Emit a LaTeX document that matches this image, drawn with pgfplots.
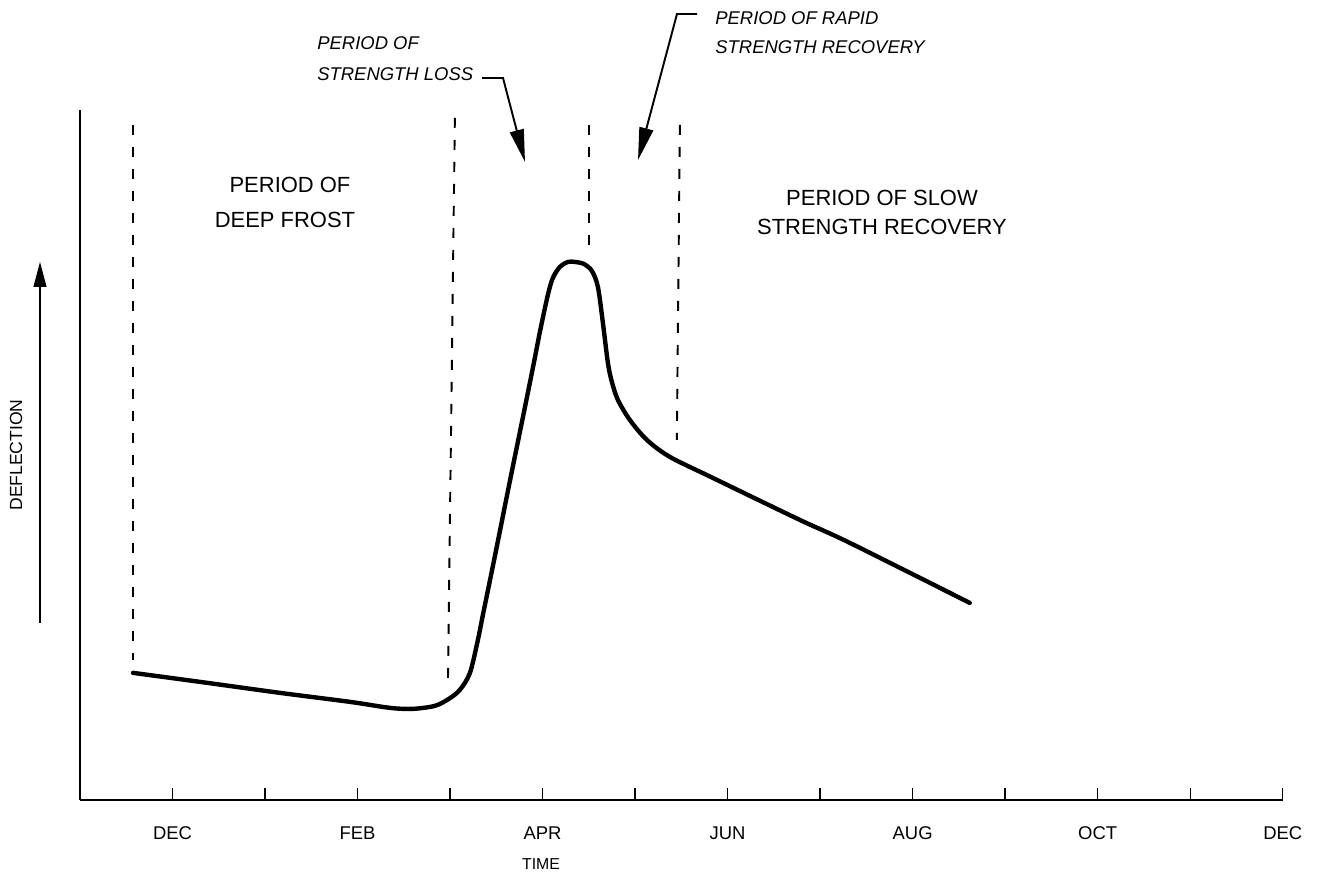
\documentclass[border=0pt]{standalone}
\usepackage{fontspec}
\setmainfont{Liberation Sans}
\usepackage{pgfplots}
\pgfplotsset{compat=1.18}
\usetikzlibrary{arrows.meta}
\begin{document}
\begin{tikzpicture}
\begin{scope}[x=0.02cm,y=-0.02cm]
\useasboundingbox (0,0) rectangle (1320,881);
\end{scope}
\begin{axis}[
  at={(1.6cm,-16cm)}, anchor=south west,
  scale only axis, width=24.06cm, height=13.8cm,
  xmin=0, xmax=13, ymin=0, ymax=690,
  axis x line=bottom, axis y line=left,
  axis line style={-, line width=1.4pt},
  xtick={1,...,13},
  xticklabels={DEC,,FEB,,APR,,JUN,,AUG,,OCT,,DEC},
  ytick=\empty,
  tick align=inside,
  major tick length=0.24cm,
  every tick/.style={black, line width=0.8pt},
  xticklabel style={anchor=base, yshift=-0.8cm, font=\fontsize{10.5}{12}\selectfont},
  clip=false,
]
% dashed period boundaries
\addplot[black, line width=1.1pt, dash pattern=on 0.2cm off 0.24cm] coordinates {(0.573,675) (0.573,140)};
\addplot[black, line width=1.1pt, dash pattern=on 0.2cm off 0.24cm] coordinates {(4.052,682) (3.977,117)};
\addplot[black, line width=1.1pt, dash pattern=on 0.2cm off 0.24cm] coordinates {(5.50,675) (5.50,555)};
\addplot[black, line width=1.1pt, dash pattern=on 0.2cm off 0.24cm] coordinates {(6.484,675) (6.451,360)};
% deflection curve
\addplot[black, line width=2.5pt, smooth, tension=0.5, line join=round, line cap=round] coordinates {
(0.573,127) (1.297,118) (2.161,107) (2.918,98) (3.350,92) (3.598,91)
(3.836,94) (3.987,101) (4.106,110) (4.215,127) (4.301,160) (4.355,185)
(4.485,244) (4.647,319) (4.755,368) (4.895,432) (4.971,468) (5.057,505)
(5.111,522) (5.187,533) (5.274,538) (5.349,538) (5.446,536) (5.533,529)
(5.598,513) (5.652,477) (5.706,437) (5.749,418) (5.814,400) (5.943,380)
(6.127,360) (6.376,343) (6.840,322) (7.780,280) (8.321,257) (9.617,197)
};
\end{axis}
\begin{scope}[x=0.02cm,y=-0.02cm]
% upright region labels
\node[anchor=base, font=\fontsize{12.5}{14}\selectfont] at (290,193) {PERIOD OF};
\node[anchor=base, font=\fontsize{12.5}{14}\selectfont] at (285,228) {DEEP FROST};
\node[anchor=base, font=\fontsize{12.5}{14}\selectfont] at (882,206) {PERIOD OF SLOW};
\node[anchor=base, font=\fontsize{12.5}{14}\selectfont] at (882,235) {STRENGTH RECOVERY};
% italic annotations
\node[anchor=base west, inner sep=0pt, font=\itshape\fontsize{10.5}{12}\selectfont] at (317,50) {PERIOD OF};
\node[anchor=base west, inner sep=0pt, font=\itshape\fontsize{10.5}{12}\selectfont] at (317,81) {STRENGTH LOSS};
\node[anchor=base west, inner sep=0pt, font=\itshape\fontsize{10.5}{12}\selectfont] at (715,25) {PERIOD OF RAPID};
\node[anchor=base west, inner sep=0pt, font=\itshape\fontsize{10.5}{12}\selectfont] at (715,54) {STRENGTH RECOVERY};
\draw[line width=1.1pt, -{Triangle[length=0.65cm,width=0.28cm]}] (482,78) -- (503,78) -- (525,162);
\draw[line width=1.1pt, -{Triangle[length=0.65cm,width=0.28cm]}] (697,14) -- (677,14) -- (638,160);
% y-axis label and arrow
\node[rotate=90, font=\fontsize{10}{11}\selectfont] at (16,455) {DEFLECTION};
\draw[line width=0.7pt, -{Triangle[length=0.5cm,width=0.26cm]}] (40,623) -- (40,262);
% x label
\node[anchor=base, font=\fontsize{9}{11}\selectfont] at (541,870) {TIME};
\end{scope}
\end{tikzpicture}
\end{document}
